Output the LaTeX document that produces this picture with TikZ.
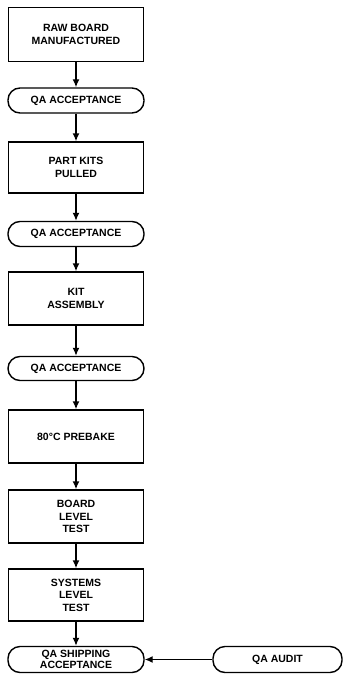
\documentclass[tikz,border=0pt]{standalone}
\usepackage{fontspec}
\setmainfont{Liberation Sans}
\usetikzlibrary{arrows.meta}

\begin{document}
\begin{tikzpicture}[x=1pt, y=-1pt, line width=1.4pt, >={Latex[length=8pt,width=7pt]},
    stepbox/.style={draw, minimum width=135pt, align=center, font=\fontsize{10.5}{12.5}\selectfont\bfseries},
    qabox/.style={draw, rounded corners=12pt, minimum width=136pt, minimum height=25pt, align=center,
        inner sep=1pt, font=\fontsize{10.5}{11}\selectfont\bfseries}]
    \useasboundingbox (0,0) rectangle (344,674);

    % Process column
    \node[stepbox, minimum height=54pt] (raw) at (76,34.5) {RAW BOARD\\MANUFACTURED};
    \node[qabox] (qa1) at (76,100.5) {QA ACCEPTANCE};
    \node[stepbox, minimum height=51pt] (kits) at (76,167.5) {PART KITS\\PULLED};
    \node[qabox] (qa2) at (76,234) {QA ACCEPTANCE};
    \node[stepbox, minimum height=53pt] (assy) at (76,298.5) {KIT\\ASSEMBLY};
    \node[qabox, minimum height=24pt] (qa3) at (76,368.5) {QA ACCEPTANCE};
    \node[stepbox, minimum height=53pt] (bake) at (76,436.5) {80\textdegree C PREBAKE};
    \node[stepbox, minimum height=53pt] (board) at (76,516.5) {BOARD\\LEVEL\\TEST};
    \node[stepbox, minimum height=52pt] (sys) at (76,595) {SYSTEMS\\LEVEL\\TEST};
    \node[qabox, minimum height=26pt] (ship) at (76,659.5) {QA SHIPPING\\ACCEPTANCE};

    % Audit
    \node[qabox, minimum width=129pt, minimum height=26pt] (audit) at (277.5,659.5) {QA AUDIT};

    % Arrows
    \draw[->] (raw) -- (qa1);
    \draw[->] (qa1) -- (kits);
    \draw[->] (kits) -- (qa2);
    \draw[->] (qa2) -- (assy);
    \draw[->] (assy) -- (qa3);
    \draw[->] (qa3) -- (bake);
    \draw[->] (bake) -- (board);
    \draw[->] (board) -- (sys);
    \draw[->] (sys) -- (ship);
    \draw[->] (audit) -- (ship);
\end{tikzpicture}
\end{document}
